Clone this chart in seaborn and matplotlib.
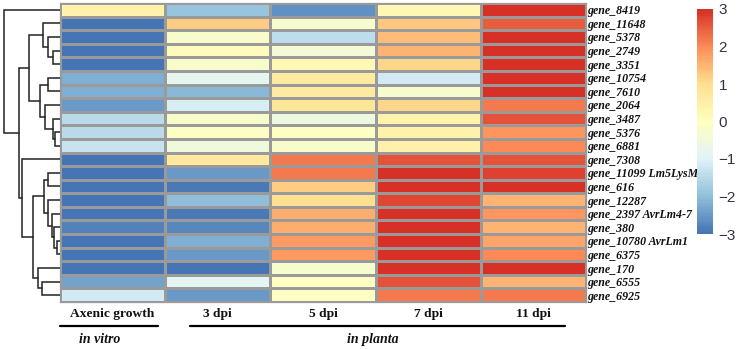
import numpy as np
import pandas as pd
import matplotlib
matplotlib.use("Agg")
import matplotlib.pyplot as plt
from matplotlib.colors import LinearSegmentedColormap
import seaborn as sns

sns.set_theme(style="white")
plt.rcParams['font.family'] = ['Liberation Serif', 'DejaVu Serif']

# rows (top to bottom), columns and log2 fold-change values
genes = ['gene_8419', 'gene_11648', 'gene_5378', 'gene_2749', 'gene_3351',
         'gene_10754', 'gene_7610', 'gene_2064', 'gene_3487', 'gene_5376',
         'gene_6881', 'gene_7308', 'gene_11099 Lm5LysM', 'gene_616',
         'gene_12287', 'gene_2397 AvrLm4-7', 'gene_380', 'gene_10780 AvrLm1',
         'gene_6375', 'gene_170', 'gene_6555', 'gene_6925']
conditions = ['Axenic growth', '3 dpi', '5 dpi', '7 dpi', '11 dpi']

axenic = [0.4, -3, -3, -3, -3, -2.2, -2.2, -2.5, -1.5, -1.5, -1.3,
          -3, -3, -3, -3, -3, -2.8, -3, -3, -3, -2.4, -1.2]
dpi3 = [-1.9, 1.2, -0.2, 0.1, -0.2, -0.8, -2.1, -1.1, -0.2, -0.1, -0.5,
        0.7, -2.5, -2.9, -2.0, -2.9, -2.7, -2.2, -2.5, -3, -0.9, -2.5]
dpi5 = [-2.6, -0.3, -1.4, -0.4, 0.2, 0.6, 0.6, 0.8, -0.6, -0.1, -0.2,
        2.2, 2.2, 1.2, 1.0, 1.6, 1.6, 1.8, 1.8, -0.3, -0.05, -0.1]
dpi7 = [0.3, 1.3, 1.4, 1.5, 1.1, -1.2, -0.3, 1.1, 0.4, 0.4, 0.45,
        2.6, 3, 3, 2.7, 3, 3, 3, 3, 3, 2.6, 2.2]
dpi11 = [3, 2.5, 3, 3, 3, 3, 3, 2.2, 2.6, 1.9, 2.0,
         2.6, 2.8, 3, 1.5, 1.9, 1.5, 1.7, 2.0, 2.95, 1.5, 2.2]

# row dendrogram: (left child, right child, height); leaves are 0..21
merges = [(3, 4, 7), (2, 22, 12), (1, 23, 17), (5, 6, 12), (9, 10, 5),
          (8, 26, 7), (7, 27, 15), (25, 28, 20), (24, 29, 31), (12, 13, 12),
          (17, 18, 3), (16, 32, 6), (15, 33, 8), (14, 34, 12), (31, 35, 16),
          (20, 21, 18), (19, 37, 22), (36, 38, 27), (11, 39, 38), (30, 40, 41),
          (0, 41, 56)]

groups = [('in vitro', 0.0, 0.93), ('in planta', 1.24, 4.8)]

df = pd.DataFrame({'Axenic growth': axenic, '3 dpi': dpi3, '5 dpi': dpi5,
                   '7 dpi': dpi7, '11 dpi': dpi11}, index=genes)[conditions]

cmap = LinearSegmentedColormap.from_list(
    'rdylbu7', ['#4575B4', '#91BFDB', '#E0F3F8', '#FFFFBF',
                '#FEE090', '#FC8D59', '#D73027'], N=100)

W, H = 743, 349
fig = plt.figure(figsize=(W / 100, H / 100), dpi=100)
top, bottom = 3, 302
ax = fig.add_axes([60 / W, 1 - bottom / H, 526 / W, (bottom - top) / H])
ax_d = fig.add_axes([0, 1 - bottom / H, 60 / W, (bottom - top) / H])
cax = fig.add_axes([697 / W, 1 - 234 / H, 16 / W, 225 / H])

sns.heatmap(df, ax=ax, cmap=cmap, vmin=-3, vmax=3, linewidths=0.9,
            linecolor='#9a9a9a', cbar_ax=cax, xticklabels=True, yticklabels=True)

ax.yaxis.tick_right()
ax.tick_params(axis='y', length=0, pad=1, rotation=0)
ax.tick_params(axis='x', length=0, pad=4, rotation=0)
for t in ax.get_yticklabels():
    t.set_fontsize(8.6)
    t.set_fontweight('bold')
    t.set_fontstyle('italic')
    t.set_color('#111111')
for t in ax.get_xticklabels():
    t.set_fontsize(9.7)
    t.set_fontweight('bold')
    t.set_color('#111111')
ax.set_xlabel('')
ax.set_ylabel('')

# outer frame of heatmap
for s in ax.spines.values():
    s.set_visible(True)
    s.set_color('#9a9a9a')
    s.set_linewidth(0.9)

# group lines and labels under the columns
trans = ax.get_xaxis_transform()
for name, x0, x1 in groups:
    ax.plot([x0, x1], [-0.080, -0.080], color='black', lw=1.6,
            transform=trans, clip_on=False)
    ax.text((x0 + x1) / 2 - (0.085 if name == 'in vitro' else 0.05), -0.126, name,
            transform=trans, ha='center', va='center', fontsize=10,
            fontweight='bold', fontstyle='italic', color='#111111')

# dendrogram
n = len(genes)
pos = {i: (i + 0.5, 0.0) for i in range(n)}
for k, (a, b, h) in enumerate(merges):
    ya, ha = pos[a]
    yb, hb = pos[b]
    ax_d.plot([ha, h, h, hb], [ya, ya, yb, yb], color='#222222', lw=1.1,
              solid_joinstyle='miter')
    pos[n + k] = ((ya + yb) / 2, h)
ax_d.set_ylim(n, 0)
ax_d.set_xlim(60, 0)
ax_d.axis('off')

# colorbar
cbar = ax.collections[0].colorbar
cbar.outline.set_visible(False)
cbar.set_ticks([-3, -2, -1, 0, 1, 2, 3])
cax.tick_params(length=0, pad=4)
for t in cax.get_yticklabels():
    t.set_fontfamily(['Liberation Sans', 'DejaVu Sans'])
    t.set_fontsize(11)
    t.set_color('#333344')

fig.savefig('out.png', dpi=100)
